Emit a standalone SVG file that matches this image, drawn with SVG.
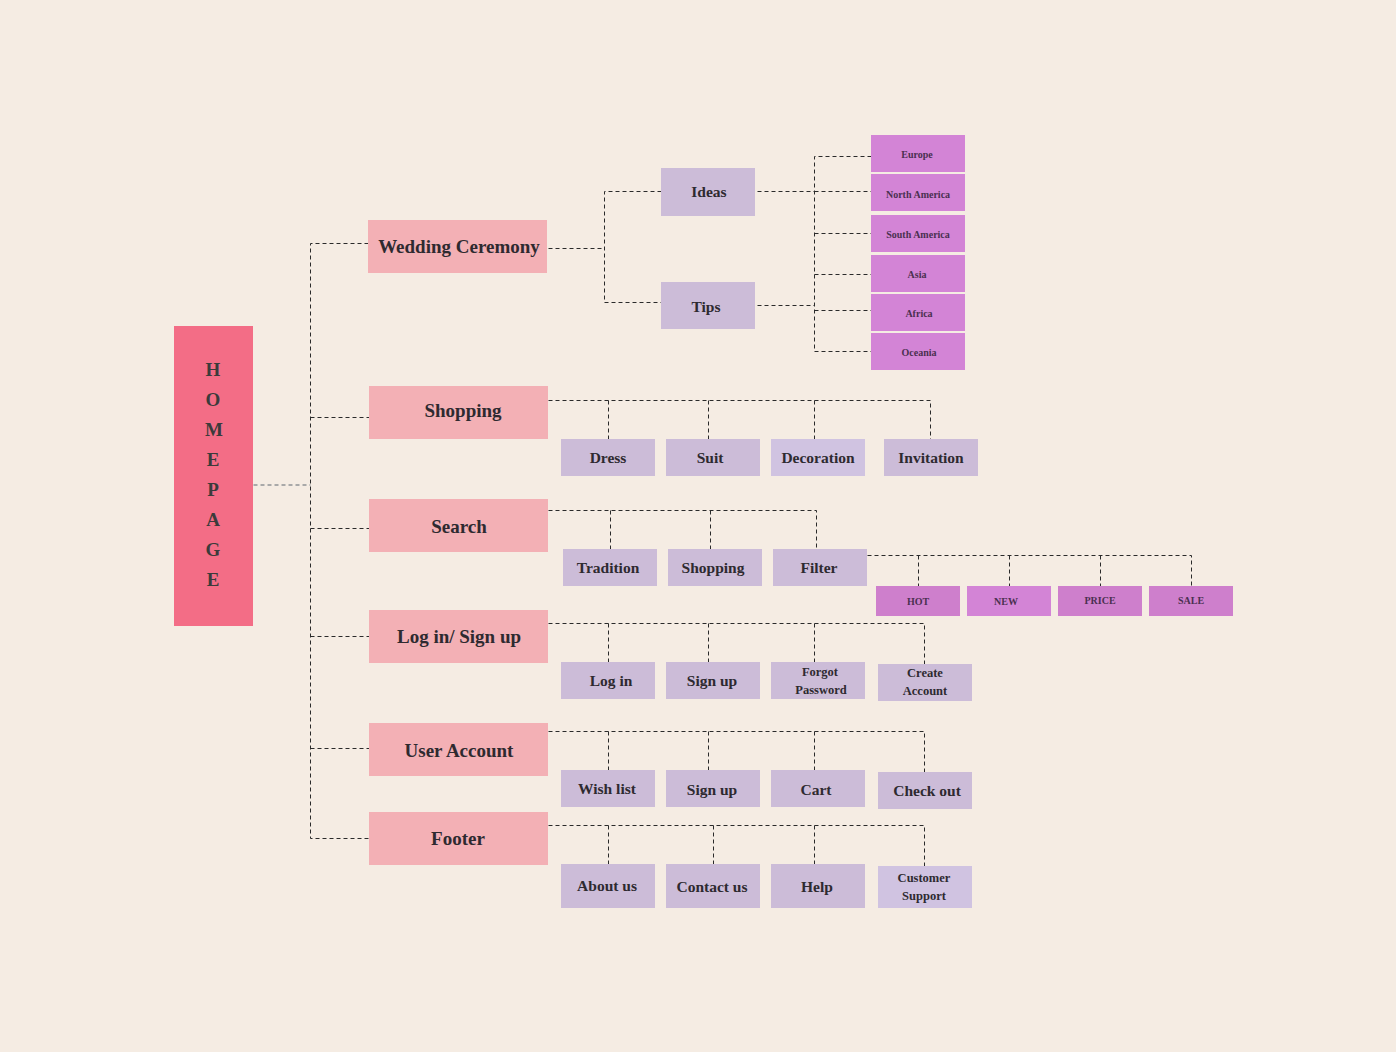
<svg xmlns="http://www.w3.org/2000/svg" width="1396" height="1052" viewBox="0 0 1396 1052">
<style>
.l1{fill:#f3b0b5}
.l2{fill:#ccbcd8}
.l2b{fill:#d0c3e1}
.rg{fill:#d384d6}
.tg{fill:#ce7fcc}
text{font-family:"Liberation Serif","DejaVu Serif",serif;font-weight:bold;text-anchor:middle;dominant-baseline:central;fill:#2e2a30}
.t1{font-size:19px}
.t2{font-size:15.5px}
.t2s{font-size:12.5px}
.t3{font-size:10px;fill:#4a3050}
.hp{font-size:19px;fill:#3b3b3b}
.c{fill:none;stroke:#2a2a2a;stroke-width:1;stroke-dasharray:4 3}
.cg{fill:none;stroke:#a9a9a9;stroke-width:2;stroke-dasharray:4 3}
</style>
<rect width="1396" height="1052" fill="#f5ece3"/>
<g id="connectors" transform="translate(0.5,0.5)">
<path class="cg" d="M253 484.5H310"/>
<path class="c" d="M368 243H310V838H369M310 417H369M310 528H369M310 636H369M310 748H369"/>
<path class="c" d="M548 248H604M661 191H604V302H661"/>
<path class="c" d="M757 191H814M757 305H814M871 156H814V351H871M814 191H871M814 233H871M814 274H871M814 310H871"/>
<path class="c" d="M548 400H930V439M608 400V439M708 400V439M814 400V439"/>
<path class="c" d="M548 510H816V549M610 510V549M710 510V549"/>
<path class="c" d="M867 555H1191V586M918 555V586M1009 555V586M1100 555V586"/>
<path class="c" d="M548 623H924V664M608 623V662M708 623V662M814 623V662"/>
<path class="c" d="M548 731H924V772M608 731V770M708 731V770M814 731V770"/>
<path class="c" d="M548 825H924V866M608 825V864M713 825V864M814 825V864"/>
</g>
<g id="homepage"><rect x="174" y="326" width="79" height="300" fill="#f36d86"/>
<text class="hp" x="213" y="369">H</text><text class="hp" x="213" y="399">O</text><text class="hp" x="214" y="429">M</text><text class="hp" x="213" y="459">E</text><text class="hp" x="213" y="489">P</text><text class="hp" x="213" y="519">A</text><text class="hp" x="213" y="549">G</text><text class="hp" x="213" y="579">E</text></g>
<g id="wedding"><rect class="l1" x="368" y="220" width="179" height="53"/><text class="t1" x="459" y="246">Wedding Ceremony</text></g>
<g id="shopping"><rect class="l1" x="369" y="386" width="179" height="53"/><text class="t1" x="463" y="410">Shopping</text></g>
<g id="search"><rect class="l1" x="369" y="499" width="179" height="53"/><text class="t1" x="459" y="526">Search</text></g>
<g id="login"><rect class="l1" x="369" y="610" width="179" height="53"/><text class="t1" x="459" y="636">Log in/ Sign up</text></g>
<g id="useraccount"><rect class="l1" x="369" y="723" width="179" height="53"/><text class="t1" x="459" y="750">User Account</text></g>
<g id="footer"><rect class="l1" x="369" y="812" width="179" height="53"/><text class="t1" x="458" y="838">Footer</text></g>
<g id="ideas"><rect class="l2" x="661" y="168" width="94" height="48"/><text class="t2" x="709" y="191">Ideas</text></g>
<g id="tips"><rect class="l2" x="661" y="282" width="94" height="47"/><text class="t2" x="706" y="306">Tips</text></g>
<g id="europe"><rect class="rg" x="871" y="135" width="94" height="37"/><text class="t3" x="917" y="154">Europe</text></g>
<g id="northamerica"><rect class="rg" x="871" y="174" width="94" height="37"/><text class="t3" x="918" y="194">North America</text></g>
<g id="southamerica"><rect class="rg" x="871" y="215" width="94" height="37"/><text class="t3" x="918" y="234">South America</text></g>
<g id="asia"><rect class="rg" x="871" y="255" width="94" height="37"/><text class="t3" x="917" y="274">Asia</text></g>
<g id="africa"><rect class="rg" x="871" y="294" width="94" height="37"/><text class="t3" x="919" y="313">Africa</text></g>
<g id="oceania"><rect class="rg" x="871" y="333" width="94" height="37"/><text class="t3" x="919" y="352">Oceania</text></g>
<g id="dress"><rect class="l2" x="561" y="439" width="94" height="37"/><text class="t2" x="608" y="457">Dress</text></g>
<g id="suit"><rect class="l2" x="666" y="439" width="94" height="37"/><text class="t2" x="710" y="457">Suit</text></g>
<g id="decoration"><rect class="l2b" x="771" y="439" width="94" height="37"/><text class="t2" x="818" y="457">Decoration</text></g>
<g id="invitation"><rect class="l2" x="884" y="439" width="94" height="37"/><text class="t2" x="931" y="457">Invitation</text></g>
<g id="tradition"><rect class="l2" x="563" y="549" width="94" height="37"/><text class="t2" x="608" y="567">Tradition</text></g>
<g id="shopping2"><rect class="l2" x="668" y="549" width="94" height="37"/><text class="t2" x="713" y="567">Shopping</text></g>
<g id="filter"><rect class="l2" x="773" y="549" width="94" height="37"/><text class="t2" x="819" y="567">Filter</text></g>
<g id="hot"><rect class="tg" x="876" y="586" width="84" height="30"/><text class="t3" x="918" y="601">HOT</text></g>
<g id="new"><rect class="rg" x="967" y="586" width="84" height="30"/><text class="t3" x="1006" y="601">NEW</text></g>
<g id="price"><rect class="tg" x="1058" y="586" width="84" height="30"/><text class="t3" x="1100" y="600">PRICE</text></g>
<g id="sale"><rect class="tg" x="1149" y="586" width="84" height="30"/><text class="t3" x="1191" y="600">SALE</text></g>
<g id="login2"><rect class="l2" x="561" y="662" width="94" height="37"/><text class="t2" x="611" y="680">Log in</text></g>
<g id="signup"><rect class="l2" x="666" y="662" width="94" height="37"/><text class="t2" x="712" y="680">Sign up</text></g>
<g id="forgot"><rect class="l2" x="771" y="662" width="94" height="37"/><text class="t2s" x="820" y="672">Forgot</text><text class="t2s" x="821" y="690">Password</text></g>
<g id="create"><rect class="l2" x="878" y="664" width="94" height="37"/><text class="t2s" x="925" y="673">Create</text><text class="t2s" x="925" y="691">Account</text></g>
<g id="wishlist"><rect class="l2" x="561" y="770" width="94" height="37"/><text class="t2" x="607" y="788">Wish list</text></g>
<g id="signup2"><rect class="l2" x="666" y="770" width="94" height="37"/><text class="t2" x="712" y="789">Sign up</text></g>
<g id="cart"><rect class="l2" x="771" y="770" width="94" height="37"/><text class="t2" x="816" y="789">Cart</text></g>
<g id="checkout"><rect class="l2" x="878" y="772" width="94" height="37"/><text class="t2" x="927" y="790">Check out</text></g>
<g id="about"><rect class="l2" x="561" y="864" width="94" height="44"/><text class="t2" x="607" y="885">About us</text></g>
<g id="contact"><rect class="l2" x="666" y="864" width="94" height="44"/><text class="t2" x="712" y="886">Contact us</text></g>
<g id="help"><rect class="l2" x="771" y="864" width="94" height="44"/><text class="t2" x="817" y="886">Help</text></g>
<g id="support"><rect class="l2b" x="878" y="866" width="94" height="42"/><text class="t2s" x="924" y="878">Customer</text><text class="t2s" x="924" y="896">Support</text></g>
</svg>
